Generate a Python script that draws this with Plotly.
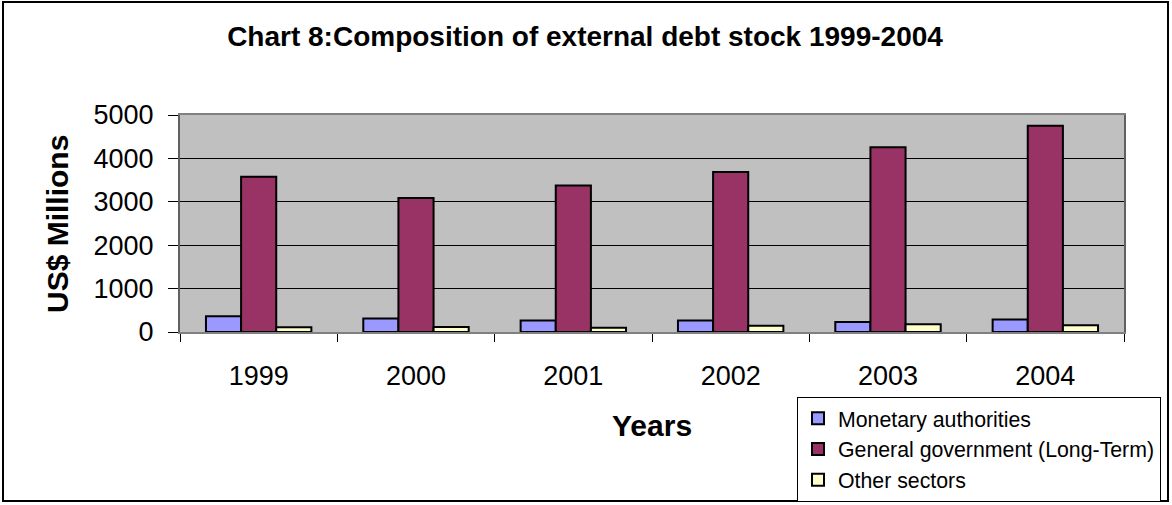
import plotly.graph_objects as go

years = ["1999", "2000", "2001", "2002", "2003", "2004"]
monetary = [362, 309, 263, 263, 231, 286]
general_gov = [3577, 3085, 3378, 3685, 4255, 4754]
other = [108, 115, 100, 146, 177, 154]

series_names = ["Monetary authorities", "General government (Long-Term)", "Other sectors"]
colors = ["#9999FF", "#993366", "#FFFFCC"]

W, H = 1172, 505
L, R, T, B = 180, 48, 115, 173
pw, ph = W - L - R, H - T - B

def px(x):
    return (x - L) / pw

def py(y):
    return (H - B - y) / ph

fig = go.Figure()
for name, vals, c in zip(series_names, [monetary, general_gov, other], colors):
    fig.add_trace(go.Bar(x=years, y=vals, name=name,
                         marker=dict(color=c, line=dict(color="black", width=2))))

font = "Liberation Sans, Arial, sans-serif"
fig.update_layout(
    width=W, height=H,
    margin=dict(l=L, r=R, t=T, b=B, autoexpand=False),
    paper_bgcolor="white",
    plot_bgcolor="#C0C0C0",
    barmode="group",
    bargap=0.33,
    bargroupgap=0,
    font=dict(family=font, color="black"),
    showlegend=True,
    title=dict(text="<b>Chart 8:Composition of external debt stock 1999-2004</b>",
               x=585 / W, xanchor="center", xref="container",
               y=1 - 36 / H, yanchor="middle", yref="container",
               font=dict(size=28, family=font, color="black")),
    legend=dict(x=797 / W, y=1 - 397 / H, xanchor="left", yanchor="top",
                xref="container", yref="container",
                bordercolor="black", borderwidth=1, bgcolor="white",
                font=dict(size=21.3, family=font, color="black"),
                itemwidth=30, tracegroupgap=0),
    xaxis=dict(type="category", tickson="boundaries", ticks="outside", ticklen=8,
               tickcolor="black", showline=True, linecolor="#808080", linewidth=2,
               mirror=True, tickfont=dict(size=27, family=font), showgrid=False,
               ticklabelstandoff=19, automargin=False),
    yaxis=dict(range=[0, 5000], dtick=1000, ticks="outside", ticklen=10,
               tickcolor="black", showline=True, linecolor="#606060", linewidth=2,
               mirror=True, showgrid=True, gridcolor="black", gridwidth=1,
               zeroline=False, tickfont=dict(size=27, family=font),
               ticklabelstandoff=9, automargin=False),
    annotations=[
        dict(text="<b>Years</b>", xref="paper", yref="paper", x=px(652), y=py(425),
             xanchor="center", yanchor="middle", showarrow=False,
             font=dict(size=30, family=font, color="black")),
        dict(text="<b>US$ Millions</b>", xref="paper", yref="paper", x=px(57), y=py(224),
             xanchor="center", yanchor="middle", showarrow=False, textangle=-90,
             font=dict(size=30, family=font, color="black")),
    ],
    shapes=[dict(type="rect", xref="paper", yref="paper",
                 x0=px(3), x1=px(1168), y0=py(501), y1=py(2),
                 line=dict(color="black", width=2), fillcolor="rgba(0,0,0,0)", layer="below")],
)

fig.write_html("out.html")
